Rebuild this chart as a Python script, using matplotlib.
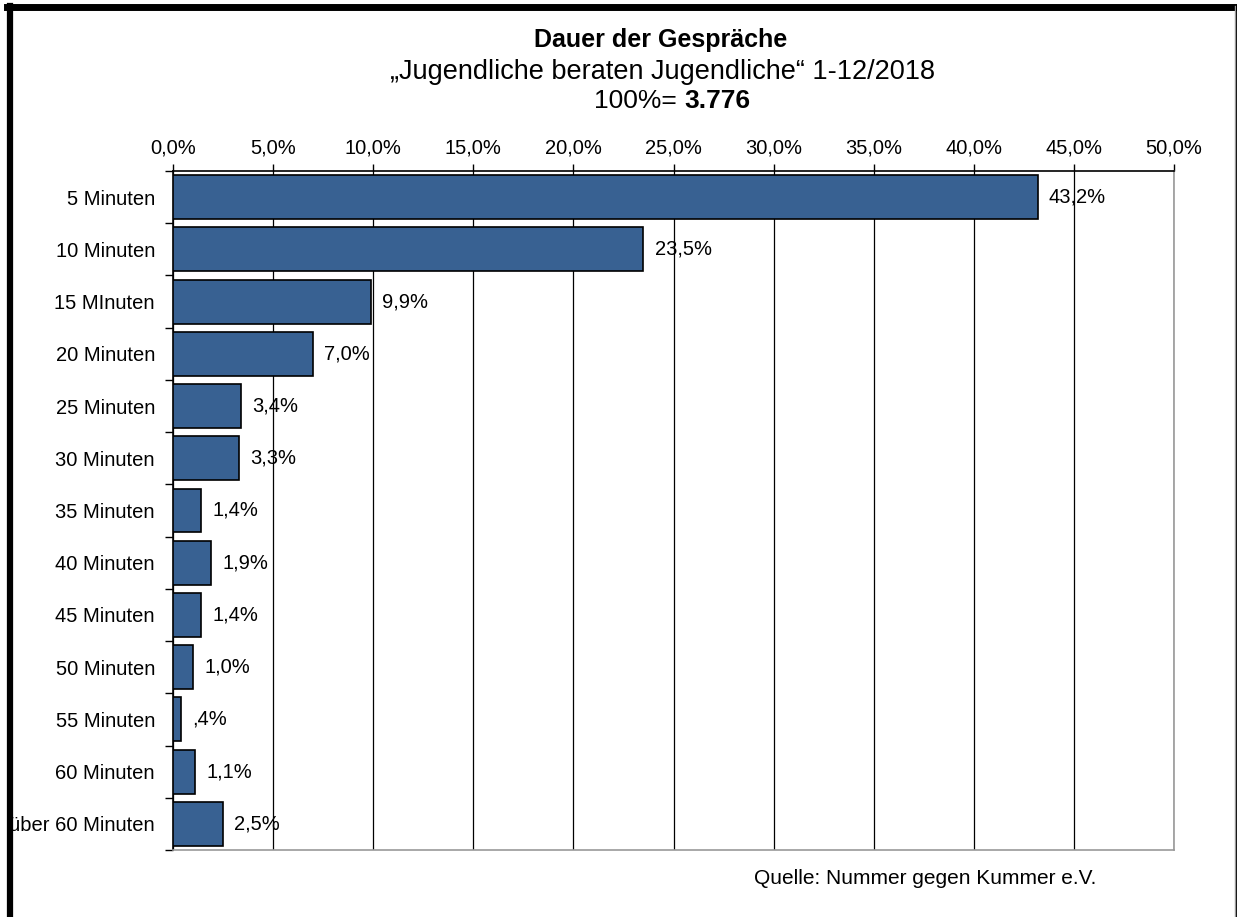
import matplotlib
matplotlib.use("Agg")
import matplotlib.pyplot as plt
from matplotlib.lines import Line2D

plt.rcParams['font.family'] = ['Liberation Sans', 'DejaVu Sans']

# data
categories = ["5 Minuten", "10 Minuten", "15 MInuten", "20 Minuten", "25 Minuten",
              "30 Minuten", "35 Minuten", "40 Minuten", "45 Minuten", "50 Minuten",
              "55 Minuten", "60 Minuten", "über 60 Minuten"]
shares = [43.2, 23.5, 9.9, 7.0, 3.4, 3.3, 1.4, 1.9, 1.4, 1.0, 0.4, 1.1, 2.5]
xticks = [0, 5, 10, 15, 20, 25, 30, 35, 40, 45, 50]

W, H = 1237, 917
fig = plt.figure(figsize=(W / 100, H / 100), dpi=100)

# axes box in pixels: left 173, right 1174, top 171, bottom 850
ax = fig.add_axes([173 / W, 1 - 850 / H, (1174 - 173) / W, (850 - 171) / H])

n = len(categories)
pos = list(range(n))
ax.barh(pos, shares, height=0.84, color="#386192", edgecolor="black", linewidth=1.2, zorder=3)

def fmt(v):
    s = f"{v:.1f}".replace(".", ",")
    if v < 1:
        s = s[1:]
    return s + "%"

for p, v in zip(pos, shares):
    ax.annotate(fmt(v), (v, p), xytext=(8, 0), textcoords="offset points",
                va="center", ha="left", fontsize=14.5, zorder=4)

ax.set_xlim(0, 50)
ax.set_ylim(n - 0.5, -0.5)

ax.xaxis.tick_top()
ax.set_xticks(xticks)
ax.set_xticklabels([f"{t:.1f}".replace(".", ",") + "%" for t in xticks], fontsize=14.5)
ax.tick_params(axis="x", direction="out", length=5, width=1, pad=5)
ax.grid(axis="x", color="black", linewidth=0.9, zorder=1)

ax.set_yticks(pos)
ax.set_yticklabels(categories, fontsize=14.5)
ax.set_yticks([p - 0.5 for p in pos] + [n - 0.5], minor=True)
ax.tick_params(axis="y", which="major", length=0, pad=13)
ax.tick_params(axis="y", which="minor", length=6, width=1, direction="out")

ax.spines["top"].set_color("black")
ax.spines["left"].set_color("black")
ax.spines["right"].set_color("#999999")
ax.spines["bottom"].set_color("#999999")
for s in ax.spines.values():
    s.set_linewidth(1.2)

# titles
fig.text(661 / W, 1 - 40 / H, "Dauer der Gespräche", ha="center", va="center",
         fontsize=18, fontweight="bold")
fig.text(663 / W, 1 - 72 / H, "\u201eJugendliche beraten Jugendliche\u201c 1-12/2018",
         ha="center", va="center", fontsize=19.5)
fig.text(684 / W, 1 - 101 / H, "100%= ", ha="right", va="center", fontsize=19)
fig.text(684 / W, 1 - 101 / H, "3.776", ha="left", va="center", fontsize=19, fontweight="bold")

fig.text(754 / W, 1 - 878 / H, "Quelle: Nummer gegen Kummer e.V.", ha="left", va="center",
         fontsize=15)

# frame around the chart
fig.add_artist(Line2D([9.5 / W, 9.5 / W], [0, 1 - 6 / H], color="black", linewidth=4.5))
fig.add_artist(Line2D([7 / W, 1], [1 - 6.5 / H, 1 - 6.5 / H], color="black", linewidth=5))
fig.add_artist(Line2D([1235 / W, 1235 / W], [0, 1 - 6 / H], color="#999999", linewidth=1))
fig.add_artist(Line2D([1236.5 / W, 1236.5 / W], [0, 1 - 6 / H], color="black", linewidth=2))

fig.savefig("out.png", dpi=100)
